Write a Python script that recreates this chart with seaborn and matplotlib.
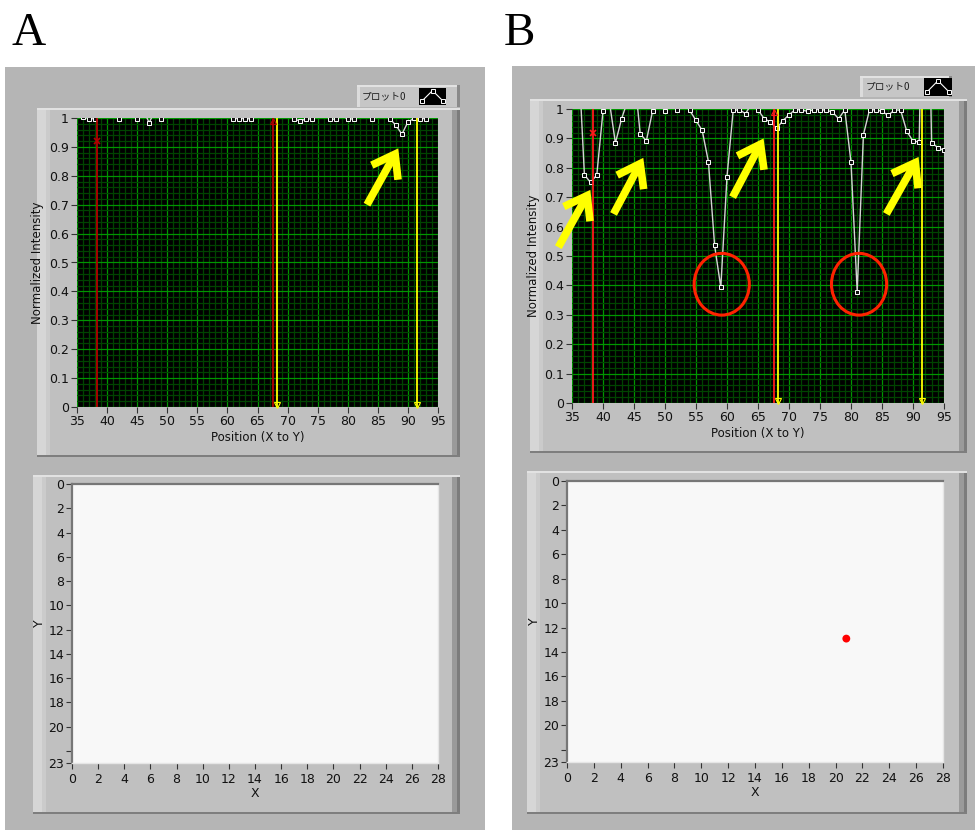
import matplotlib
matplotlib.use("Agg")
import matplotlib.pyplot as plt
import seaborn as sns
from matplotlib.patches import Rectangle, Ellipse
from matplotlib.ticker import MultipleLocator, FuncFormatter

W, H = 977, 830

# line profile along the scan, position 35..95
positions = list(range(35, 96))
intensity_a = [
    1.04, 1.005, 0.998, 0.997, 1.05, 1.06, 1.04, 0.998, 1.03, 1.02,   # 35-44
    0.997, 1.03, 0.983, 1.03, 0.998, 1.04, 1.05, 1.06, 1.05, 1.04,    # 45-54
    1.06, 1.05, 1.04, 1.05, 1.06, 1.03, 0.998, 0.998, 0.998, 0.997,   # 55-64
    1.04, 1.05, 1.05, 1.04, 1.05, 1.02, 0.997, 0.99, 0.996, 0.997,    # 65-74
    1.03, 1.02, 0.996, 0.996, 1.01, 0.996, 0.997, 1.03, 1.02, 0.998,  # 75-84
    1.04, 1.02, 0.997, 0.975, 0.944, 0.986, 0.999, 0.998, 0.998, 1.03,  # 85-94
    1.04,                                                               # 95
]
intensity_b = [
    1.10, 1.20, 0.776, 0.750, 0.776, 0.993, 1.03, 0.884, 0.967, 1.03,  # 35-44
    1.13, 0.915, 0.892, 0.994, 1.02, 0.994, 1.02, 0.995, 1.02, 0.995,  # 45-54
    0.961, 0.927, 0.821, 0.536, 0.393, 0.770, 0.996, 0.997, 0.984, 1.02,  # 55-64
    0.997, 0.967, 0.956, 0.934, 0.960, 0.980, 0.998, 0.997, 0.992, 0.998,  # 65-74
    0.998, 0.996, 0.990, 0.967, 0.997, 0.819, 0.378, 0.912, 0.998, 0.997,  # 75-84
    0.992, 0.978, 0.997, 0.996, 0.924, 0.891, 0.888, 2.0, 0.885, 0.869,    # 85-94
    0.859,                                                                  # 95
]

# graph cursors
red_cursors = [38.4, 67.6]
yellow_cursors = [68.2, 91.5]
cross_y = 0.92

# annotation arrows (tail, head) in data units
arrows_a = [((83.2, 0.70), (88.4, 0.895))]
arrows_b = [
    ((32.8, 0.53), (37.96, 0.725)),
    ((41.7, 0.643), (46.5, 0.834)),
    ((60.9, 0.70), (65.9, 0.90)),
    ((85.7, 0.643), (90.9, 0.837)),
]
circle_x = [59.15, 81.3]
circle_y = 0.404

# intensity graph marker
dot_x = [20.8]
dot_y = [12.9]

# legend glyph
icon_x = [0, 1, 2]
icon_y = [0, 1, 0]

sns.set_theme(style="white")
plt.rcParams["font.family"] = ["Liberation Sans Narrow", "DejaVu Sans"]
plt.rcParams["text.color"] = "#111111"
plt.rcParams["axes.labelcolor"] = "#111111"
plt.rcParams["xtick.color"] = "#111111"
plt.rcParams["ytick.color"] = "#111111"

fig = plt.figure(figsize=(W / 100, H / 100), dpi=100)
fig.patch.set_facecolor("white")


def rect(l, t, r, b):
    return [l / W, 1 - b / H, (r - l) / W, (b - t) / H]


def box(l, t, r, b, color, z=-5):
    fig.add_artist(Rectangle((l / W, 1 - b / H), (r - l) / W, (b - t) / H,
                             transform=fig.transFigure, facecolor=color,
                             edgecolor="none", zorder=z))


def bevel(l, t, r, b):
    box(l, t, r, b, "#c0c0c0", -4)
    box(l, t, l + 9, b, "#d6d6d6", -3)
    box(l + 9, t, l + 13, b, "#cbcbcb", -3)
    box(r - 8, t, r, b, "#9a9a9a", -3)
    box(r - 3, t, r, b, "#7c7c7c", -3)
    box(l, t, r, t + 2, "#e2e2e2", -3)
    box(l, b - 2, r, b, "#7e7e7e", -3)


def legend_box(l, t, r, b, icon):
    box(l, t, r, b, "#c6c6c6", -2)
    box(l, t, l + 3, b, "#dcdcdc", -1)
    box(l, t, r, t + 2, "#e2e2e2", -1)
    box(r - 3, t, r, b, "#8a8a8a", -1)
    fig.text((l + 0.38 * (icon[0] - l)) / W + 0.004, 1 - (t + b) / 2 / H, "プロット0",
             family=["Noto Sans CJK JP", "DejaVu Sans"], fontsize=7,
             ha="center", va="center", color="#202020")
    iax = fig.add_axes(rect(*icon))
    iax.set_facecolor("black")
    iax.plot(icon_x, icon_y, color="white", lw=0.8, marker="s", ms=3,
             mfc="black", mec="white", mew=0.7)
    iax.set_xlim(-0.3, 2.3)
    iax.set_ylim(-0.4, 1.25)
    iax.set_xticks([])
    iax.set_yticks([])
    for s in iax.spines.values():
        s.set_visible(False)


def profile(rect_px, values, red, arrows, circles):
    ax = fig.add_axes(rect(*rect_px))
    ax.set_facecolor("black")
    ax.set_xlim(35, 95)
    ax.set_ylim(0, 1)
    ax.xaxis.set_major_locator(MultipleLocator(5))
    ax.xaxis.set_minor_locator(MultipleLocator(1))
    ax.yaxis.set_major_locator(MultipleLocator(0.1))
    ax.yaxis.set_minor_locator(MultipleLocator(0.02))
    ax.yaxis.set_major_formatter(FuncFormatter(lambda v, p: f"{v:.1f}".rstrip("0").rstrip(".") if v not in (0, 1) else f"{v:g}"))
    ax.grid(which="minor", color="#004400", lw=0.9)
    ax.grid(which="major", color="#009600", lw=0.9)
    ax.set_axisbelow(True)
    ax.tick_params(which="minor", length=0)
    ax.tick_params(which="major", length=4, width=0.8, labelsize=9, pad=2,
                   left=True, bottom=True, color="#333333")
    for s in ax.spines.values():
        s.set_visible(False)

    sns.lineplot(x=positions, y=values, ax=ax, color="#d4d4d4", lw=1.0,
                 marker="s", markersize=3.4, markerfacecolor="#101010",
                 markeredgecolor="white", markeredgewidth=0.7, zorder=3)

    for x in red_cursors:
        ax.axvline(x, color=red, lw=1.3, zorder=4)
    for x in yellow_cursors:
        ax.axvline(x, color="#ffff00", lw=1.3, zorder=4)
        ax.plot([x], [0.006], marker="v", ms=4.5, mfc="none", mec="#ffff00",
                mew=0.8, clip_on=False, zorder=5)
    ax.plot([red_cursors[0]], [cross_y], marker="x", ms=5, mec=red, mew=1.2, zorder=5)
    ax.plot([red_cursors[1]], [0.99], marker="^", ms=4.5, mfc="none", mec=red,
            mew=0.8, clip_on=False, zorder=5)

    for tail, head in arrows:
        ax.annotate("", xy=head, xytext=tail, annotation_clip=False,
                    arrowprops=dict(arrowstyle="->,head_length=0.42,head_width=0.3",
                                    color="#ffff00", lw=5.5, mutation_scale=36,
                                    shrinkA=0, shrinkB=0, joinstyle="miter",
                                    capstyle="butt"), zorder=8)
    for cx in circles:
        ax.add_patch(Ellipse((cx, circle_y), 8.9, 0.21, facecolor="none",
                             edgecolor="#ff2200", lw=2.2, zorder=7))

    ax.set_ylabel("Normalized Intensity", fontsize=8.5, labelpad=3)
    ax.set_xlabel("Position (X to Y)", fontsize=8.5, labelpad=2)
    return ax


def intensity(rect_px, dots):
    ax = fig.add_axes(rect(*rect_px))
    ax.set_facecolor("#f8f8f8")
    ax.set_xlim(0, 28)
    ax.set_ylim(23, 0)
    ax.set_xticks(range(0, 29, 2))
    yt = list(range(0, 21, 2)) + [22, 23]
    ax.set_yticks(yt)
    ax.set_yticklabels([str(v) if v != 22 else "" for v in yt])
    ax.tick_params(length=4, width=0.8, labelsize=9, pad=1.5, left=True,
                   bottom=True, color="#333333")
    ax.tick_params(axis="x", pad=3)
    for side in ("top", "left"):
        ax.spines[side].set_color("#777777")
        ax.spines[side].set_linewidth(1.6)
    for side in ("bottom", "right"):
        ax.spines[side].set_color("#e6e6e6")
        ax.spines[side].set_linewidth(1.0)
    if dots:
        sns.scatterplot(x=dot_x, y=dot_y, ax=ax, color="#ff0000", s=32,
                        edgecolor="none", zorder=3)
    ax.set_xlabel("X", fontsize=9, labelpad=1)
    ax.set_ylabel("Y", fontsize=9, labelpad=2)
    return ax


# panel backgrounds
box(5, 67, 485, 830, "#b5b5b5", -6)
box(512, 66, 975, 830, "#b5b5b5", -6)

# panel A
bevel(37, 108, 460, 457)
legend_box(357, 85, 460, 107, (419, 88, 446, 105))
profile((77, 118, 438, 407), intensity_a, "#b40000", arrows_a, [])
bevel(33, 475, 460, 814)
intensity((72, 484, 438, 763), False)

# panel B
bevel(530, 99, 967, 453)
legend_box(860, 76, 952, 97, (924, 78, 952, 96))
profile((572, 109, 944, 403), intensity_b, "#ff1a1a", arrows_b, circle_x)
bevel(527, 471, 967, 814)
intensity((567, 481, 943, 762), True)

fig.text(12 / W, 1 - 45 / H, "A", family=["Liberation Serif", "DejaVu Serif"],
         fontsize=34, va="baseline", color="black")
fig.text(504 / W, 1 - 45 / H, "B", family=["Liberation Serif", "DejaVu Serif"],
         fontsize=34, va="baseline", color="black")

fig.savefig("out.png", dpi=100, facecolor="white")
